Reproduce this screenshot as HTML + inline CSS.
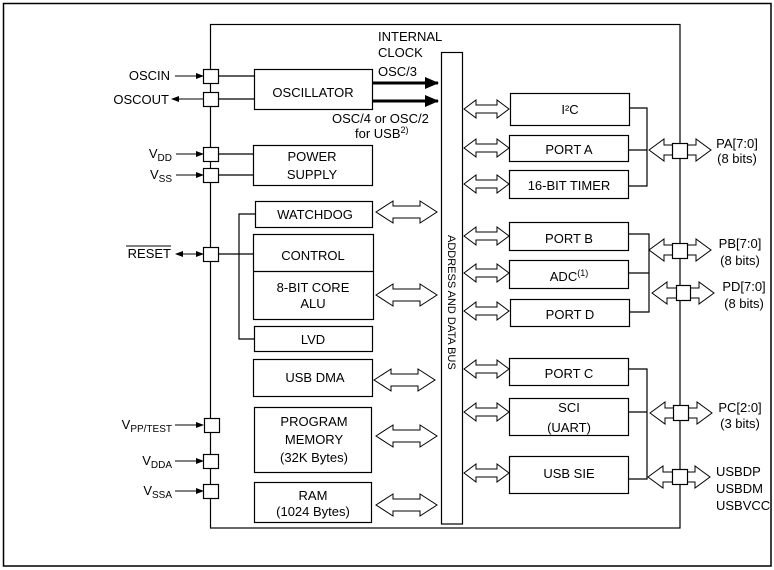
<!DOCTYPE html>
<html><head><meta charset="utf-8"><style>
html,body{margin:0;padding:0;background:#fff}
svg{display:block}
text{font-family:"Liberation Sans",Arial,sans-serif;font-size:13px;fill:#000}
</style></head><body>
<svg width="774" height="570" viewBox="0 0 774 570" xmlns="http://www.w3.org/2000/svg">
<defs>
<path id="sa" d="M0 0 L12 -9 L12 -4 L33 -4 L33 -9 L45 0 L33 9 L33 4 L12 4 L12 9Z" fill="#fff" stroke="#000" stroke-width="1"/>
<path id="ba" d="M0 0 L17 -11 L17 -6 L44 -6 L44 -11 L61 0 L44 11 L44 6 L17 6 L17 11Z" fill="#fff" stroke="#000" stroke-width="1"/>
<path id="ra" d="M0 0 L15 -11 L15 -5 L47 -5 L47 -11 L62 0 L47 11 L47 5 L15 5 L15 11Z" fill="#fff" stroke="#000" stroke-width="1"/>
<marker id="ah" markerWidth="8" markerHeight="6" refX="7" refY="3" orient="auto" markerUnits="userSpaceOnUse"><path d="M0 0 L8 3 L0 6Z" fill="#000"/></marker>
<marker id="ahs" markerWidth="8" markerHeight="6" refX="1" refY="3" orient="auto" markerUnits="userSpaceOnUse"><path d="M8 0 L0 3 L8 6Z" fill="#000"/></marker>
<marker id="big" markerWidth="14" markerHeight="12" refX="13" refY="6" orient="auto" markerUnits="userSpaceOnUse"><path d="M0 0 L14 6 L0 12Z" fill="#000"/></marker>
</defs>
<rect x="3.5" y="3.5" width="767.5" height="562.5" fill="none" stroke="#000" stroke-width="1.5"/>
<g fill="none" stroke="#000" stroke-width="1.2">
<rect x="210.5" y="24.5" width="469.5" height="503.5"/>
<rect x="441.5" y="52.5" width="21" height="471.5"/>
<rect x="254.5" y="69.5" width="118" height="40"/>
<rect x="253.5" y="145.5" width="119" height="40"/>
<rect x="255.5" y="201.5" width="117" height="26"/>
<rect x="253.5" y="234.5" width="120" height="85"/>
<line x1="253.5" y1="271.5" x2="373.5" y2="271.5"/>
<rect x="254.5" y="326.5" width="118" height="25"/>
<rect x="253.5" y="359.5" width="119" height="37"/>
<rect x="254.5" y="407.5" width="117" height="65"/>
<rect x="254.5" y="482.5" width="117" height="40"/>
<polyline points="255,214 239,214 239,339 254,339"/>
<line x1="218" y1="254" x2="253" y2="254"/>
<line x1="218" y1="76" x2="254" y2="76"/>
<line x1="218" y1="99" x2="254" y2="99"/>
<line x1="218" y1="154" x2="253" y2="154"/>
<line x1="218" y1="175" x2="253" y2="175"/>
<rect x="510.5" y="93.5" width="119" height="32"/>
<rect x="509.5" y="135.5" width="119" height="26"/>
<rect x="509.5" y="170.5" width="119" height="28"/>
<rect x="509.5" y="222.5" width="119" height="28"/>
<rect x="509.5" y="260.5" width="119" height="28"/>
<rect x="510.5" y="299.5" width="119" height="27"/>
<rect x="509.5" y="358.5" width="119" height="27"/>
<rect x="509.5" y="398.5" width="119" height="37"/>
<rect x="509.5" y="456.5" width="119" height="37"/>
<polyline points="629,108 647,108 647,186 628,186"/>
<line x1="628" y1="150" x2="647" y2="150"/>
<polyline points="628,234 649,234 649,312 629,312"/>
<line x1="628" y1="273" x2="649" y2="273"/>
<polyline points="628,369 647,369 647,479 628,479"/>
<line x1="628" y1="412" x2="647" y2="412"/>
</g>
<g stroke="#000" stroke-width="3">
<line x1="373" y1="83" x2="438" y2="83" marker-end="url(#big)"/>
<line x1="373" y1="101" x2="438" y2="101" marker-end="url(#big)"/>
</g>
<g stroke="#000" stroke-width="1">
<line x1="175" y1="76" x2="203" y2="76" marker-end="url(#ah)"/>
<line x1="172" y1="99" x2="203" y2="99" marker-start="url(#ahs)"/>
<line x1="176" y1="154" x2="203" y2="154" marker-end="url(#ah)"/>
<line x1="176" y1="175" x2="203" y2="175" marker-end="url(#ah)"/>
<line x1="176" y1="254" x2="203" y2="254" marker-start="url(#ahs)" marker-end="url(#ah)"/>
<line x1="175" y1="425" x2="203" y2="425" marker-end="url(#ah)"/>
<line x1="175" y1="461" x2="203" y2="461" marker-end="url(#ah)"/>
<line x1="175" y1="491" x2="203" y2="491" marker-end="url(#ah)"/>
</g>
<use href="#ba" x="376" y="212"/>
<use href="#ba" x="376" y="295"/>
<use href="#ba" x="374" y="380"/>
<use href="#ba" x="376" y="436"/>
<use href="#ba" x="376" y="505"/>
<use href="#sa" x="464" y="109"/>
<use href="#sa" x="464" y="148"/>
<use href="#sa" x="464" y="184"/>
<use href="#sa" x="464" y="236"/>
<use href="#sa" x="464" y="273"/>
<use href="#sa" x="464" y="311"/>
<use href="#sa" x="464" y="369"/>
<use href="#sa" x="464" y="412"/>
<use href="#sa" x="464" y="473"/>
<use href="#ra" x="649" y="150"/>
<use href="#ra" x="649" y="250"/>
<use href="#ra" x="652" y="293"/>
<use href="#ra" x="650" y="413"/>
<use href="#ra" x="648" y="477"/>
<g fill="#fff" stroke="#000" stroke-width="1.2">
<rect x="203.5" y="69.5" width="15" height="14"/>
<rect x="203.5" y="92.5" width="15" height="14"/>
<rect x="203.5" y="147.5" width="15" height="14"/>
<rect x="203.5" y="168.5" width="15" height="14"/>
<rect x="203.5" y="247.5" width="15" height="14"/>
<rect x="204.5" y="418.5" width="15" height="14"/>
<rect x="203.5" y="454.5" width="15" height="14"/>
<rect x="203.5" y="484.5" width="15" height="14"/>
<rect x="672.5" y="143.5" width="15" height="15"/>
<rect x="672.5" y="243.5" width="15" height="15"/>
<rect x="676.5" y="285.5" width="14" height="15"/>
<rect x="673.5" y="405.5" width="15" height="15"/>
<rect x="672.5" y="469.5" width="15" height="15"/>
</g>
<g text-anchor="middle">
<text x="313" y="97">OSCILLATOR</text>
<text x="312" y="161">POWER</text><text x="312" y="179">SUPPLY</text>
<text x="315" y="219">WATCHDOG</text>
<text x="313" y="260">CONTROL</text>
<text x="313" y="292">8-BIT CORE</text><text x="313" y="308">ALU</text>
<text x="313" y="344">LVD</text>
<text x="315" y="382">USB DMA</text>
<text x="314" y="426">PROGRAM</text><text x="314" y="444">MEMORY</text><text x="314" y="462">(32K Bytes)</text>
<text x="313" y="500">RAM</text><text x="313" y="516">(1024 Bytes)</text>
<text x="570" y="114">I²C</text>
<text x="569" y="154">PORT A</text>
<text x="569" y="190">16-BIT TIMER</text>
<text x="569" y="243">PORT B</text>
<text x="569" y="281">ADC<tspan font-size="9" dy="-5">(1)</tspan></text>
<text x="570" y="319">PORT D</text>
<text x="569" y="378">PORT C</text>
<text x="569" y="412">SCI</text><text x="569" y="432">(UART)</text>
<text x="569" y="478">USB SIE</text>
<text x="737" y="148">PA[7:0]</text><text x="737" y="163">(8 bits)</text>
<text x="740" y="248">PB[7:0]</text><text x="740" y="265">(8 bits)</text>
<text x="744" y="291">PD[7:0]</text><text x="744" y="308">(8 bits)</text>
<text x="740" y="412">PC[2:0]</text><text x="740" y="428">(3 bits)</text>
</g>
<text x="716" y="476">USBDP</text><text x="716" y="493">USBDM</text><text x="716" y="510">USBVCC</text>
<text x="378" y="41">INTERNAL</text><text x="378" y="57">CLOCK</text>
<text x="378" y="76">OSC/3</text>
<text x="332" y="123">OSC/4 or OSC/2</text>
<text x="355" y="138">for USB<tspan font-size="9" dy="-5">2)</tspan></text>
<g text-anchor="end">
<text x="170" y="80">OSCIN</text>
<text x="169" y="104">OSCOUT</text>
<text x="172" y="158">V<tspan font-size="10" dy="3">DD</tspan></text>
<text x="172" y="179">V<tspan font-size="10" dy="3">SS</tspan></text>
<text x="171" y="258">RESET</text>
<text x="172" y="429">V<tspan font-size="10" dy="3">PP/TEST</tspan></text>
<text x="172" y="465">V<tspan font-size="10" dy="3">DDA</tspan></text>
<text x="172" y="495">V<tspan font-size="10" dy="3">SSA</tspan></text>
</g>
<line x1="126" y1="246" x2="171" y2="246" stroke="#000" stroke-width="1"/>
<text x="0" y="0" style="font-size:11px" transform="translate(448,235) rotate(90)">ADDRESS AND DATA BUS</text>
</svg>
</body></html>
